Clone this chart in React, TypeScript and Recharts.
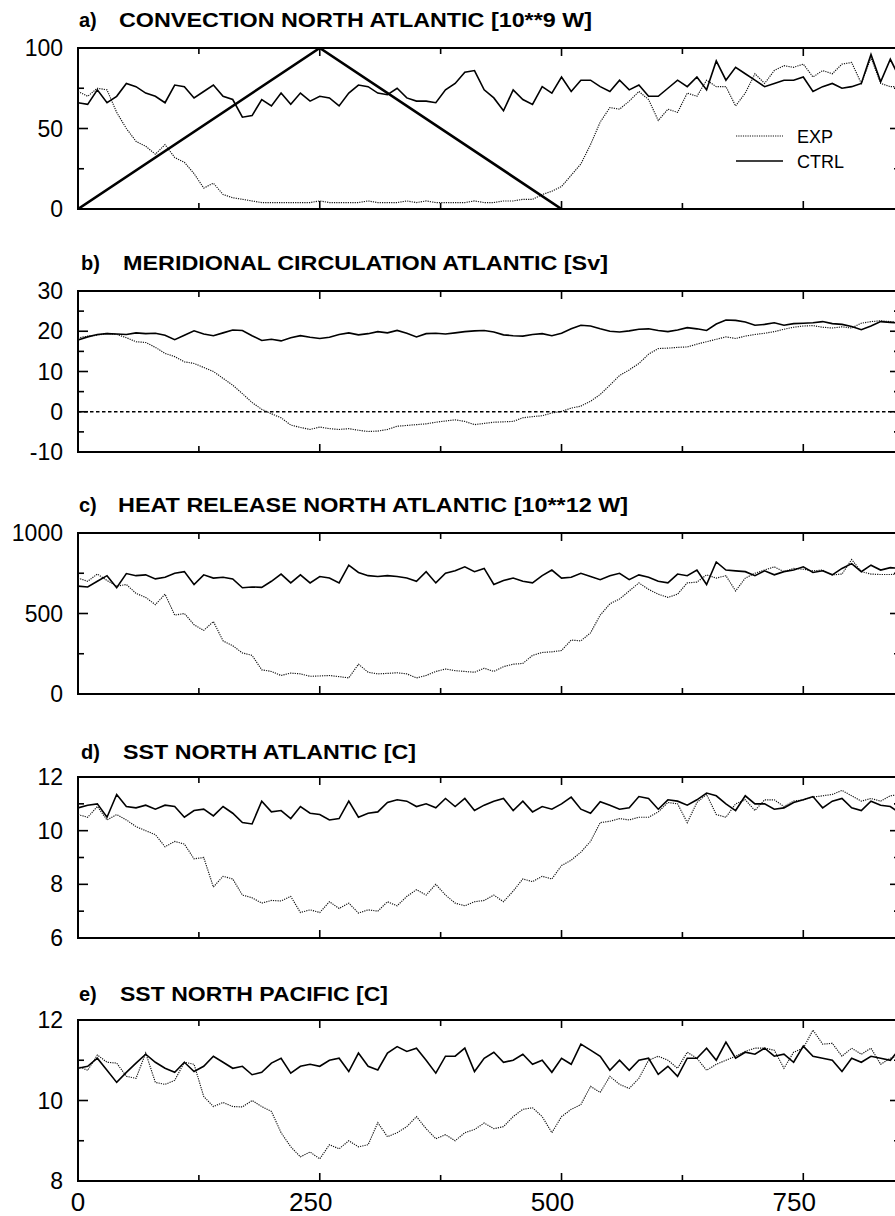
import React from "react";
import { LineChart, Line, XAxis, YAxis, ReferenceLine, ReferenceArea } from "recharts";

// model years, one value every 10 years
const years = Array.from({ length: 86 }, (_, i) => i * 10);

// a) convection north atlantic [10**9 W]
const convExp = [
  73, 70, 75, 74, 60, 50, 42, 39, 34, 40,
  32, 29, 22, 13, 16, 9, 7, 6, 5, 4,
  4, 4, 4, 4, 4, 5, 4, 4, 4, 4,
  5, 4, 4, 4, 5, 4, 5, 4, 4, 4,
  4, 5, 4, 4, 5, 5, 6, 6, 9, 11,
  14, 21, 28, 40, 54, 63, 62, 67, 73, 68,
  55, 62, 60, 72, 70, 80, 76, 76, 64, 72,
  84, 78, 86, 89, 88, 90, 82, 86, 84, 90,
  91, 78, 94, 78, 76, 76,
];
const convCtrl = [
  66, 65, 74, 66, 70, 78, 76, 72, 70, 66,
  77, 76, 69, 73, 77, 70, 68, 57, 58, 68,
  64, 72, 65, 72, 67, 70, 69, 64, 72, 77,
  76, 72, 71, 75, 69, 67, 67, 66, 74, 78,
  85, 86, 74, 69, 61, 74, 68, 65, 76, 72,
  82, 73, 80, 80, 76, 73, 80, 74, 77, 70,
  70, 75, 80, 76, 82, 74, 92, 80, 88, 84,
  80, 76, 78, 80, 80, 82, 73, 76, 78, 75,
  76, 78, 96, 79, 93, 81,
];
const convRampYears = [0, 250, 500];
const convRamp = [0, 100, 0];

// b) meridional circulation atlantic [Sv]
const mocExp = [
  18.3, 18.8, 19.0, 19.5, 19.2, 18.4, 17.4, 17.2, 16.0, 14.5,
  13.7, 12.4, 12.0, 11.0, 10.0, 8.3, 6.6, 4.5, 2.3, 0.6,
  -0.5, -1.5, -3.3, -3.9, -4.4, -3.8, -4.2, -4.4, -4.2, -4.6,
  -4.9, -4.8, -4.4, -3.6, -3.4, -3.2, -3.0, -2.6, -2.3, -2.0,
  -2.4, -3.2, -2.9, -2.6, -2.5, -2.4, -1.5, -1.2, -1.0, -0.3,
  0.1, 0.9, 1.4, 2.6, 4.3, 6.6, 9.0, 10.4, 12.0, 14.3,
  15.7, 15.8, 16.0, 16.1, 16.8, 17.4, 18.0, 18.6, 18.2, 18.8,
  19.2, 19.5, 19.9, 20.5, 21.0, 21.3, 21.4, 21.0, 20.8, 21.1,
  20.8, 22.0, 22.4, 22.6, 22.4, 22.3,
];
const mocCtrl = [
  17.8, 18.6, 19.2, 19.4, 19.3, 19.2, 19.6, 19.4, 19.5, 19.0,
  17.9, 19.0, 20.1, 19.3, 18.9, 19.6, 20.3, 20.2, 18.9, 17.7,
  18.0, 17.6, 18.4, 18.9, 18.5, 18.2, 18.5, 19.2, 19.6, 19.1,
  19.4, 19.9, 19.6, 20.2, 19.5, 18.6, 19.4, 19.5, 19.3, 19.6,
  19.9, 20.1, 20.2, 19.8, 19.1, 18.9, 18.8, 19.2, 19.4, 18.9,
  19.5, 20.6, 21.5, 21.3, 20.6, 20.0, 19.8, 20.1, 20.5, 20.6,
  20.2, 19.9, 20.3, 20.9, 20.6, 20.2, 21.8, 22.8, 22.7, 22.3,
  21.5, 21.7, 22.1, 21.5, 21.9, 22.0, 22.1, 22.4, 21.9, 21.7,
  21.2, 20.4, 21.3, 22.4, 22.2, 22.0,
];

// c) heat release north atlantic [10**12 W]
const heatExp = [
  720, 700, 745, 705, 670, 680, 625, 600, 555, 620,
  490, 500, 430, 395, 450, 330, 300, 255, 240, 150,
  140, 115, 130, 125, 110, 112, 115, 108, 100, 185,
  135, 125, 128, 132, 125, 100, 115, 140, 155, 145,
  140, 135, 160, 140, 170, 185, 190, 240, 258, 262,
  270, 335, 330, 380, 490, 560, 590, 640, 690, 650,
  620, 600, 620, 690, 695, 740, 720, 735, 640, 720,
  750, 770, 790, 760, 780, 775, 765, 770, 740, 745,
  835, 760, 745, 742, 742, 745,
];
const heatCtrl = [
  670, 665, 700, 735, 660, 748, 735, 740, 715, 725,
  750, 760, 680, 740, 720, 725, 715, 660, 665, 662,
  700, 745, 690, 740, 690, 730, 720, 690, 800, 755,
  735, 730, 735, 730, 720, 700, 760, 690, 750, 765,
  790, 760, 780, 680, 705, 720, 700, 690, 735, 770,
  720, 725, 750, 730, 710, 735, 750, 710, 740, 725,
  700, 690, 745, 735, 770, 680, 820, 770, 765, 760,
  735, 765, 740, 760, 770, 790, 755, 765, 740, 780,
  810, 760, 800, 770, 785, 780,
];

// d) sst north atlantic [C]
const sstAtlExp = [
  10.6, 10.5, 10.9, 10.4, 10.6, 10.4, 10.15, 10.0, 9.85, 9.4,
  9.6, 9.5, 8.95, 9.0, 7.9, 8.3, 8.2, 7.6, 7.5, 7.3,
  7.4, 7.38, 7.55, 6.95, 7.05, 6.95, 7.35, 7.1, 7.3, 6.93,
  7.05, 7.0, 7.35, 7.2, 7.55, 7.8, 7.6, 8.0, 7.6, 7.3,
  7.2, 7.35, 7.4, 7.6, 7.35, 7.75, 8.2, 8.1, 8.3, 8.2,
  8.7, 8.9, 9.2, 9.6, 10.3, 10.35, 10.45, 10.4, 10.5, 10.5,
  10.7, 11.05, 11.0, 10.3, 11.05, 11.35, 10.6, 10.5, 11.0, 11.15,
  10.75, 11.15, 11.15, 10.9, 11.1, 11.15, 11.25, 11.3, 11.35, 11.5,
  11.3, 11.1, 11.2, 11.1, 11.3, 11.35,
];
const sstAtlCtrl = [
  10.85, 10.95, 11.0, 10.5, 11.35, 10.9, 10.85, 10.95, 10.8, 10.95,
  10.9, 10.5, 10.75, 10.8, 10.55, 10.9, 10.65, 10.3, 10.25, 11.1,
  10.7, 10.75, 10.45, 10.9, 10.65, 10.6, 10.4, 10.45, 11.1, 10.5,
  10.65, 10.7, 11.05, 11.15, 11.1, 10.9, 11.0, 10.85, 11.2, 10.9,
  11.2, 10.75, 10.95, 11.1, 11.2, 10.75, 11.1, 10.7, 10.9, 10.8,
  11.0, 11.25, 10.8, 10.65, 11.08, 10.95, 10.8, 10.85, 11.27, 11.2,
  10.8, 11.15, 11.1, 10.95, 11.15, 11.4, 11.3, 11.0, 10.75, 11.3,
  11.0, 11.0, 10.8, 10.85, 11.05, 11.15, 11.27, 10.85, 11.1, 11.2,
  10.85, 10.75, 11.1, 10.95, 10.9, 10.65,
];

// e) sst north pacific [C]
const sstPacExp = [
  10.85, 10.75, 11.13, 10.95, 10.93, 10.6, 10.55, 11.18, 10.45, 10.4,
  10.5, 10.95, 10.9, 10.1, 9.85, 9.95, 9.85, 9.84, 10.0, 9.85,
  9.73, 9.2, 8.85, 8.6, 8.72, 8.55, 8.9, 8.8, 9.0, 8.85,
  8.9, 9.45, 9.1, 9.2, 9.35, 9.6, 9.3, 9.05, 9.15, 9.0,
  9.2, 9.28, 9.44, 9.3, 9.35, 9.6, 9.78, 9.82, 9.6, 9.2,
  9.6, 9.78, 9.9, 10.35, 10.2, 10.6, 10.4, 10.3, 10.55, 11.0,
  11.1, 11.0, 10.8, 11.2, 11.05, 10.75, 10.9, 11.0, 11.1, 11.22,
  11.3, 11.3, 11.25, 10.8, 11.2, 11.3, 11.75, 11.4, 11.42, 11.1,
  11.3, 11.15, 11.3, 10.9, 11.05, 11.1,
];
const sstPacCtrl = [
  10.8, 10.85, 11.05, 10.75, 10.45, 10.7, 10.93, 11.15, 10.95, 10.8,
  10.7, 10.95, 10.72, 10.85, 11.1, 10.95, 10.8, 10.85, 10.64, 10.7,
  10.93, 11.05, 10.68, 10.85, 10.9, 10.85, 11.0, 11.05, 10.72, 11.18,
  10.85, 10.76, 11.18, 11.34, 11.22, 11.3, 11.0, 10.68, 11.1, 11.1,
  11.3, 10.72, 11.05, 11.2, 10.95, 11.0, 11.15, 10.9, 11.0, 10.7,
  11.05, 10.9, 11.4, 11.25, 11.1, 10.75, 11.0, 10.75, 11.0, 11.05,
  10.65, 10.85, 10.6, 11.05, 11.05, 11.3, 11.0, 11.45, 11.05, 11.2,
  11.15, 11.3, 11.1, 11.15, 10.95, 11.35, 11.1, 11.05, 11.0, 10.72,
  11.05, 10.95, 11.1, 11.05, 11.0, 11.3,
];

const xMax = 850;
const xTicks = [0, 125, 250, 375, 500, 625, 750];
const xLabels = [0, 250, 500, 750];

const FONT = "'Liberation Sans', Arial, Helvetica, sans-serif";
const CHART_W = 900;
const Y_AXIS_W = 78;
const PLOT_H = 161;
const PAD = 20;
const LABEL_H = 40;
const EXP_DASH = "1.2 1.1";

type Panel = {
  tag: string;
  title: string;
  exp: number[];
  ctrl: number[];
  domain: [number, number];
  yTicks: number[];
  yLabels: number[];
  plotTop: number;
  titleY: number;
  tagX: number;
  titleX: number;
  titleLen: number;
};

const panels: Panel[] = [
  {
    tag: "a)", title: "CONVECTION NORTH ATLANTIC [10**9 W]",
    exp: convExp, ctrl: convCtrl, domain: [0, 100],
    yTicks: [0, 25, 50, 75, 100], yLabels: [0, 50, 100],
    plotTop: 48, titleY: 27, tagX: 79, titleX: 119, titleLen: 473,
  },
  {
    tag: "b)", title: "MERIDIONAL CIRCULATION ATLANTIC [Sv]",
    exp: mocExp, ctrl: mocCtrl, domain: [-10, 30],
    yTicks: [-10, -5, 0, 5, 10, 15, 20, 25, 30], yLabels: [-10, 0, 10, 20, 30],
    plotTop: 291, titleY: 270, tagX: 81, titleX: 123, titleLen: 485,
  },
  {
    tag: "c)", title: "HEAT RELEASE NORTH ATLANTIC [10**12 W]",
    exp: heatExp, ctrl: heatCtrl, domain: [0, 1000],
    yTicks: [0, 250, 500, 750, 1000], yLabels: [0, 500, 1000],
    plotTop: 533, titleY: 512, tagX: 79, titleX: 118, titleLen: 510,
  },
  {
    tag: "d)", title: "SST NORTH ATLANTIC [C]",
    exp: sstAtlExp, ctrl: sstAtlCtrl, domain: [6, 12],
    yTicks: [6, 7, 8, 9, 10, 11, 12], yLabels: [6, 8, 10, 12],
    plotTop: 777, titleY: 759, tagX: 81, titleX: 123, titleLen: 293,
  },
  {
    tag: "e)", title: "SST NORTH PACIFIC [C]",
    exp: sstPacExp, ctrl: sstPacCtrl, domain: [8, 12],
    yTicks: [8, 9, 10, 11, 12], yLabels: [8, 10, 12],
    plotTop: 1020, titleY: 1001, tagX: 79, titleX: 120, titleLen: 268,
  },
];

// pixel position of a tick inside a panel frame (same layout the charts use)
const tickX = (t: number) => Y_AXIS_W + (t * (CHART_W - Y_AXIS_W)) / xMax;
const tickY = (p: Panel, v: number) =>
  p.plotTop + ((p.domain[1] - v) / (p.domain[1] - p.domain[0])) * PLOT_H;

const FrameTicks = ({ p }: { p: Panel }) => {
  const top = p.plotTop;
  const bottom = p.plotTop + PLOT_H;
  return (
    <g stroke="#000" strokeWidth={1.6}>
      {xTicks.map((t) => {
        const len = xLabels.includes(t) ? 8 : 6;
        const x = tickX(t);
        return (
          <g key={`x${t}`}>
            <line x1={x} x2={x} y1={bottom} y2={bottom - len} />
            <line x1={x} x2={x} y1={top} y2={top + len} />
          </g>
        );
      })}
      {p.yTicks.map((v) => {
        const len = p.yLabels.includes(v) ? 10 : 6;
        const y = tickY(p, v);
        return (
          <g key={`y${v}`}>
            <line x1={Y_AXIS_W} x2={Y_AXIS_W + len} y1={y} y2={y} />
            <line x1={CHART_W} x2={CHART_W - len} y1={y} y2={y} />
          </g>
        );
      })}
    </g>
  );
};

const XLabel = (props: any) => {
  const { x, y, payload } = props;
  const txt = String(payload.value);
  return (
    <text
      x={x - (txt.length > 1 ? 9 : 0)}
      y={y + 30}
      textAnchor="middle"
      fontSize={26}
      fontFamily={FONT}
      fill="#000"
    >
      {txt}
    </text>
  );
};

const YLabel = (props: any) => {
  const { x, y, payload } = props;
  return (
    <text x={x - 15} y={y} dy="0.35em" textAnchor="end" fontSize={23} fontFamily={FONT} fill="#000">
      {payload.value}
    </text>
  );
};

const PanelChart = ({ p, last }: { p: Panel; last: boolean }) => {
  const rows = years.map((t, i) => ({ t, exp: p.exp[i], ctrl: p.ctrl[i] }));
  const ramp = convRampYears.map((t, i) => ({ t, ramp: convRamp[i] }));
  const height = PAD + PLOT_H + (last ? LABEL_H : PAD);
  return (
    <div style={{ position: "absolute", left: 0, top: p.plotTop - PAD }}>
      <LineChart
        width={CHART_W}
        height={height}
        data={rows}
        margin={{ top: PAD, right: 0, bottom: last ? 0 : PAD, left: 0 }}
      >
        <XAxis
          dataKey="t"
          type="number"
          domain={[0, xMax]}
          allowDataOverflow
          ticks={xLabels}
          interval={0}
          hide={!last}
          height={last ? LABEL_H : 0}
          tickSize={0}
          tickMargin={0}
          tickLine={false}
          axisLine={false}
          tick={(tp: any) => <XLabel {...tp} />}
        />
        <YAxis
          type="number"
          domain={p.domain}
          allowDataOverflow
          ticks={p.yLabels}
          interval={0}
          width={Y_AXIS_W}
          tickSize={0}
          tickMargin={0}
          tickLine={false}
          axisLine={false}
          tick={(tp: any) => <YLabel {...tp} />}
        />
        <ReferenceArea
          x1={0}
          x2={xMax}
          y1={p.domain[0]}
          y2={p.domain[1]}
          fill="none"
          stroke="#000"
          strokeWidth={2}
          ifOverflow="visible"
        />
        {p.tag === "b)" && (
          <ReferenceLine y={0} stroke="#000" strokeWidth={1.3} strokeDasharray="3.5 2.5" />
        )}
        <Line
          dataKey="exp"
          stroke="#111"
          strokeWidth={1.15}
          strokeDasharray={EXP_DASH}
          dot={false}
          isAnimationActive={false}
        />
        <Line
          dataKey="ctrl"
          stroke="#000"
          strokeWidth={1.6}
          dot={false}
          isAnimationActive={false}
        />
        {p.tag === "a)" && (
          <Line
            data={ramp}
            dataKey="ramp"
            stroke="#000"
            strokeWidth={2.6}
            dot={false}
            isAnimationActive={false}
          />
        )}
      </LineChart>
    </div>
  );
};

const App: React.FC = () => {
  return (
    <div
      style={{
        position: "absolute",
        left: 0,
        top: 0,
        width: 895,
        height: 1216,
        overflow: "hidden",
        background: "#fff",
      }}
    >
      {panels.map((p, i) => (
        <PanelChart key={p.tag} p={p} last={i === panels.length - 1} />
      ))}
      <svg
        width={895}
        height={1216}
        style={{ position: "absolute", left: 0, top: 0, pointerEvents: "none" }}
      >
        {panels.map((p) => (
          <g key={p.tag}>
            <FrameTicks p={p} />
            <g fontFamily={FONT} fontWeight="bold" fontSize={20} fill="#000">
              <text x={p.tagX} y={p.titleY}>{p.tag}</text>
              <text x={p.titleX} y={p.titleY} textLength={p.titleLen} lengthAdjust="spacingAndGlyphs">
                {p.title}
              </text>
            </g>
          </g>
        ))}
        {/* legend of panel a */}
        <line x1={736} x2={783} y1={136} y2={136} stroke="#111" strokeWidth={1.15} strokeDasharray={EXP_DASH} />
        <text x={797} y={143} fontFamily={FONT} fontSize={18} fill="#000">EXP</text>
        <line x1={736} x2={783} y1={161} y2={161} stroke="#000" strokeWidth={1.6} />
        <text x={797} y={168} fontFamily={FONT} fontSize={18} fill="#000">CTRL</text>
      </svg>
    </div>
  );
};

export default App;
